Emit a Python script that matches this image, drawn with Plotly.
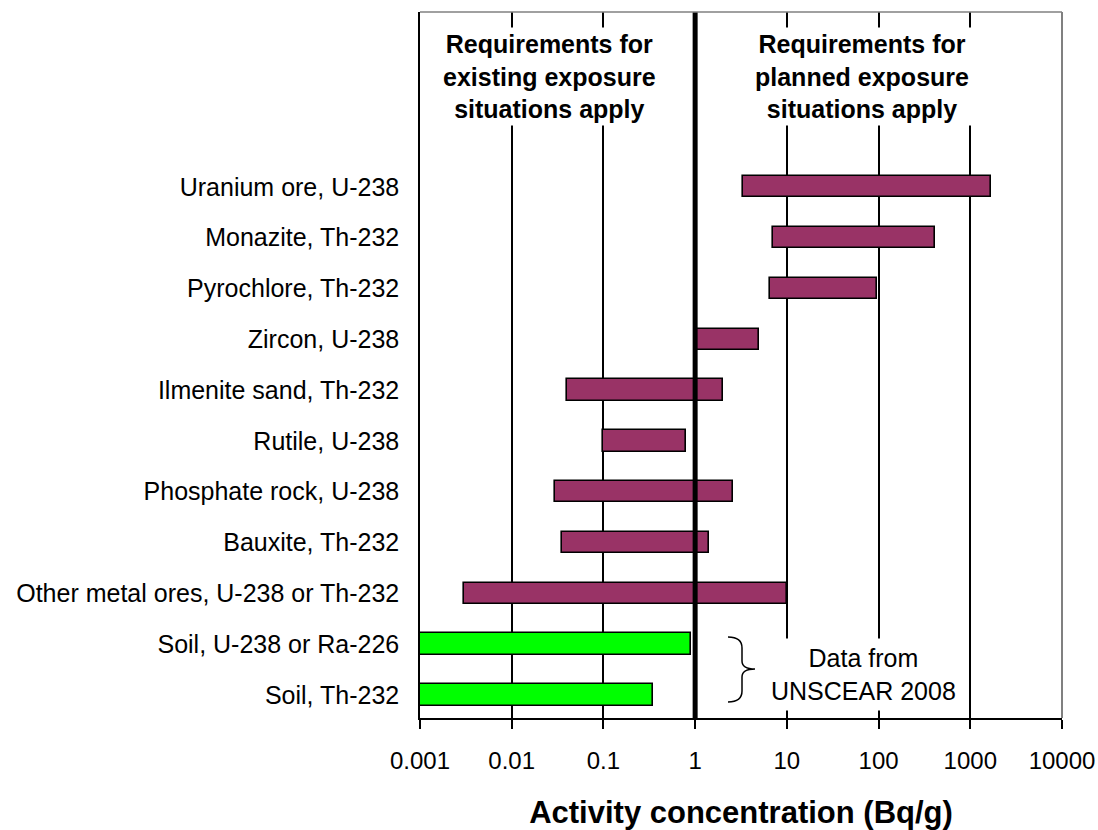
import plotly.graph_objects as go

# ---- data (top to bottom) ----
categories = [
    "Uranium ore, U-238",
    "Monazite, Th-232",
    "Pyrochlore, Th-232",
    "Zircon, U-238",
    "Ilmenite sand, Th-232",
    "Rutile, U-238",
    "Phosphate rock, U-238",
    "Bauxite, Th-232",
    "Other metal ores, U-238 or Th-232",
    "Soil, U-238 or Ra-226",
    "Soil, Th-232",
]
low_values = [3.3, 7.0, 6.6, 1.0, 0.04, 0.1, 0.03, 0.035, 0.003, 0.001, 0.001]
high_values = [1700, 410, 95, 5.0, 2.0, 0.8, 2.6, 1.4, 10, 0.9, 0.35]
sources = ["NORM"] * 9 + ["UNSCEAR"] * 2

x_tickvals = [0.001, 0.01, 0.1, 1, 10, 100, 1000, 10000]
x_ticktext = ["0.001", "0.01", "0.1", "1", "10", "100", "1000", "10000"]
threshold = 1

FONT = "Arial, Liberation Sans, sans-serif"
PLUM = "#993366"
GREEN = "#00FF00"

n = len(categories)
positions = [n - 1 - i for i in range(n)]
Y_RANGE = [-0.453, 13.44]

fig = go.Figure()
for src, col in [("NORM", PLUM), ("UNSCEAR", GREEN)]:
    idx = [i for i in range(n) if sources[i] == src]
    fig.add_trace(go.Bar(
        orientation="h",
        y=[positions[i] for i in idx],
        base=[low_values[i] for i in idx],
        x=[high_values[i] - low_values[i] for i in idx],
        width=0.42,
        marker=dict(color=col, line=dict(color="black", width=1.6)),
        showlegend=False,
        hoverinfo="skip",
    ))

# thick threshold line at 1 Bq/g
fig.add_trace(go.Scatter(
    x=[threshold, threshold], y=Y_RANGE, mode="lines",
    line=dict(color="black", width=5), showlegend=False, hoverinfo="skip",
    cliponaxis=False,
))

W, H = 1098, 830
# plot area in pixels
PL, PR, PT, PB = 420, 1062, 12, 718
ml, mr, mt, mb = PL, W - PR, PT, H - PB

fig.update_layout(
    width=W, height=H,
    margin=dict(l=ml, r=mr, t=mt, b=mb, autoexpand=False),
    paper_bgcolor="white", plot_bgcolor="white",
    font=dict(family=FONT, color="black", size=24),
    bargap=0,
    xaxis=dict(
        type="log", range=[-3, 4],
        tickvals=x_tickvals, ticktext=x_ticktext,
        tickfont=dict(size=24, family=FONT, color="black"),
        ticks="outside", ticklen=9, tickwidth=1.5, tickcolor="black",
        ticklabelstandoff=11,
        showgrid=True, gridcolor="black", gridwidth=1.5,
        showline=True, linecolor="black", linewidth=2,
        zeroline=False,
        title=dict(text="<b>Activity concentration (Bq/g)</b>",
                   font=dict(size=31, family=FONT, color="black"), standoff=30),
        automargin=False,
    ),
    yaxis=dict(
        range=Y_RANGE,
        tickvals=positions, ticktext=categories,
        tickfont=dict(size=25, family=FONT, color="black"),
        ticks="outside", ticklen=14, tickcolor="rgba(0,0,0,0)",
        showgrid=False, zeroline=False,
        showline=True, linecolor="black", linewidth=1.5,
        automargin=False,
    ),
)

# frame: grey top and right edges
fig.add_shape(type="line", xref="paper", yref="paper", x0=0, x1=1, y0=1, y1=1,
              line=dict(color="#808080", width=1.5), layer="above")
fig.add_shape(type="line", xref="paper", yref="paper", x0=1, x1=1, y0=0, y1=1,
              line=dict(color="#808080", width=2), layer="above")


def px(x):
    return (x - PL) / (PR - PL)


def py(y):
    return (PB - y) / (PB - PT)


# annotations (region labels)
fig.add_annotation(xref="paper", yref="paper", x=px(549), y=py(76),
                   xanchor="center", yanchor="middle",
                   text="<b>Requirements for<br>existing exposure<br>situations apply</b>",
                   showarrow=False, bgcolor="white", borderpad=2,
                   font=dict(size=25, family=FONT, color="black"), align="center")
fig.add_annotation(xref="paper", yref="paper", x=px(862), y=py(76),
                   xanchor="center", yanchor="middle",
                   text="<b>Requirements for<br>planned exposure<br>situations apply</b>",
                   showarrow=False, bgcolor="white", borderpad=2,
                   font=dict(size=25, family=FONT, color="black"), align="center")
fig.add_annotation(xref="paper", yref="paper", x=px(863), y=py(674),
                   xanchor="center", yanchor="middle",
                   text="Data from<br>UNSCEAR 2008",
                   showarrow=False, bgcolor="white", borderpad=5,
                   font=dict(size=25, family=FONT, color="black"), align="center")

# curly brace
brace = (f"M {px(728)} {py(637)} Q {px(742)} {py(637)} {px(742)} {py(648)} "
         f"L {px(742)} {py(661)} Q {px(742)} {py(669)} {px(755)} {py(669)} "
         f"Q {px(742)} {py(669)} {px(742)} {py(677)} "
         f"L {px(742)} {py(691)} Q {px(742)} {py(702)} {px(728)} {py(702)}")
fig.add_shape(type="path", xref="paper", yref="paper", path=brace,
              line=dict(color="black", width=1.5), layer="above")

fig.write_html(
    "out.html",
    config={"displayModeBar": False},
    post_script="document.body.style.margin='0';document.body.style.overflow='hidden';",
)
